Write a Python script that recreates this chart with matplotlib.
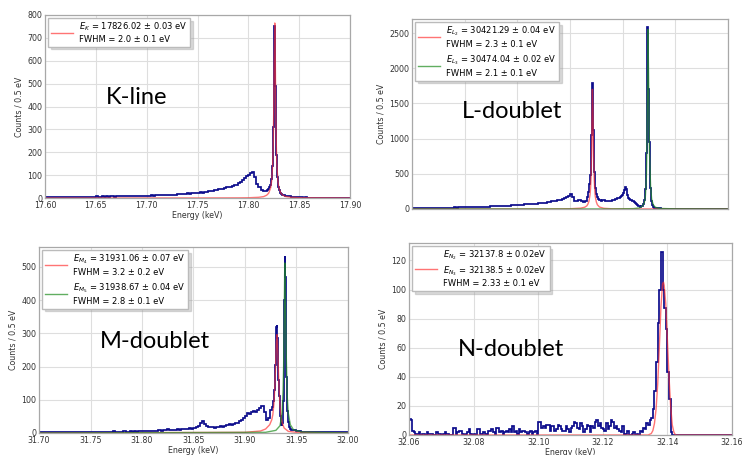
"""Four X-ray line spectra (K, L, M, N) with fitted peaks."""

import numpy as np
import matplotlib
matplotlib.use("Agg")
import matplotlib.pyplot as plt
from matplotlib.ticker import FormatStrFormatter, MultipleLocator

plt.rcParams["font.family"] = "DejaVu Sans"
plt.rcParams["font.size"] = 5.7

NAVY = "#0c0c8c"
RED = "#ff2a2a"
GREEN = "#1e8c1e"

# ---------------- K-line (keV, counts per 0.5 eV) ----------------
K_START = 17.600
K_LOW = [4, 3, 5, 4, 3, 4, 5, 4, 4, 5, 4, 5, 4, 5, 6, 4, 5, 5, 6, 5,
         6, 5, 6, 6, 5, 7, 6, 6, 7, 6, 7, 6, 7, 8, 6, 7, 8, 7, 8, 7,
         8, 7, 9, 8, 8, 9, 8, 9, 10, 9,
         9, 10, 11, 10, 11, 12, 11, 12, 13, 12, 13, 14, 13, 15, 14, 16, 18,
         17, 16, 18, 20, 19, 21, 22, 21, 24, 25, 24, 27, 28,
         30, 32, 31, 35, 37, 39, 41, 40, 44, 47, 46, 50, 53, 56, 58,
         64, 70, 78, 88, 96, 102, 108, 113, 90, 60, 48, 36, 30, 32]
K_PEAK = [35, 36, 38, 41, 44, 47, 52, 58, 69, 82, 104, 139, 200, 309, 498, 752,
          728, 490, 300, 190, 128, 90, 66, 50, 40, 33, 27, 22, 19, 16, 15, 13]
K_HIGH = [11, 9, 8, 9, 6, 5, 5, 4, 3, 3, 2, 3, 2, 2, 1, 2, 1, 1, 2, 1,
          1, 1, 1, 0, 1, 1, 0, 1, 1, 0, 1, 0, 1]
K_FIT_E = [17.60, 17.75, 17.79, 17.80, 17.81, 17.815, 17.818, 17.820, 17.822,
           17.823, 17.824, 17.8245, 17.825, 17.8255, 17.826, 17.8265, 17.827,
           17.8275, 17.828, 17.829, 17.830, 17.832, 17.834, 17.837, 17.842,
           17.852, 17.90]
K_FIT_Y = [0, 0.1, 0.6, 1.1, 3, 6, 12, 21, 45, 77, 153, 235, 382, 612, 765,
           612, 382, 235, 153, 77, 45, 21, 12, 6, 3, 1.1, 0.1]

# ---------------- L-doublet ----------------
L_START = 30.250
L_LOW = [12, 13, 11, 14, 13, 15, 14, 13, 16, 15, 17, 16, 18,
         17, 19, 18, 20, 19, 21, 20, 22, 21, 23, 22, 24, 25,
         24, 26, 27, 26, 28, 30, 29, 31, 33, 32, 35, 36, 38,
         40, 39, 42, 44, 43, 47, 49, 48, 52, 55, 54, 58, 61,
         60, 64, 66, 65, 70, 73, 72, 77, 80, 84, 88, 92, 98,
         104, 108, 112, 118, 124, 130, 140, 150, 165, 185, 210,
         170, 120, 110, 122, 115, 105, 112]
L_PEAK2 = [160, 175, 200, 235, 285, 360, 480, 700, 1050, 1550, 1795,
           1600, 1120, 740, 520, 380, 300, 245, 210, 185, 165, 150]
L_MID = [140, 125, 118, 122, 130, 126, 115, 112, 118, 110,
         115, 120, 118, 125, 130, 128, 135, 140, 150, 160,
         170, 185, 200, 230, 270, 310, 280, 200, 160, 135,
         125, 130, 120, 110, 100, 90, 75, 60, 45, 35, 38, 48]
L_PEAK3 = [60, 75, 95, 130, 180, 280, 450, 800, 1500, 2580, 2480,
           1700, 950, 520, 300, 190, 120, 80, 55, 40, 30, 22]
L_HIGH = [16, 10, 8, 6, 6, 5, 4, 5, 4, 3, 4, 3, 3, 4, 3, 2, 3, 3, 2, 3,
          2, 2, 3, 2, 2, 2, 1, 2, 2, 1, 2, 2, 1, 2, 1]
L2_FIT_E = [30.25, 30.38, 30.40, 30.41, 30.414, 30.416, 30.417, 30.418, 30.419,
            30.4195, 30.420, 30.4205, 30.421, 30.4213, 30.4217, 30.422, 30.4225,
            30.423, 30.4235, 30.424, 30.425, 30.426, 30.428, 30.432, 30.44,
            30.46, 30.55]
L2_FIT_Y = [0, 1, 4, 12, 25, 45, 70, 110, 200, 290, 450, 760, 1350, 1700, 1450,
            1100, 700, 420, 270, 180, 100, 60, 28, 10, 3, 1, 0]
L3_FIT_E = [30.25, 30.44, 30.46, 30.466, 30.469, 30.4705, 30.4715, 30.4725,
            30.473, 30.4735, 30.474, 30.4745, 30.475, 30.4755, 30.4765, 30.4775,
            30.479, 30.481, 30.485, 30.50, 30.55]
L3_FIT_Y = [0, 1, 5, 15, 45, 90, 170, 450, 900, 1650, 2550, 2000, 1300, 800,
            320, 140, 60, 25, 8, 2, 0]

# ---------------- M-doublet ----------------
M_START = 31.700
M_LOW = [3, 2, 3, 4, 2, 3, 3, 2, 4, 3, 2, 3, 3, 4, 2, 3, 3, 2, 3, 4, 3, 2, 3, 3, 4,
         3, 4, 3, 3, 2, 4, 3, 4, 3, 3, 4, 5, 3, 4, 4, 3, 5, 4, 4, 5, 4, 5, 4, 6, 5,
         5, 6, 5, 6, 7, 6, 7, 6, 8, 7, 8, 10, 13,
         9, 8, 9, 10, 11, 10, 12, 11, 13, 12, 14, 13, 16,
         18, 22, 30, 36, 28, 20, 18, 17, 19, 16, 17, 18,
         20, 19, 22, 24, 26, 25, 28, 31, 30, 35, 40, 44,
         52, 60, 58, 64, 66, 62, 70, 76, 80, 62, 40, 45, 68]
M_PEAK = [72, 78, 85, 95, 110, 130, 160, 205, 260, 318,
          325, 285, 220, 160, 110, 75, 50, 35, 25, 22,
          30, 50, 95, 200, 400, 532, 470, 300, 170, 100,
          65, 45, 32, 24, 18, 14, 12, 10, 9, 8]
M_HIGH = [10, 8, 6, 5, 4, 3, 3, 4, 3, 2, 3, 3, 2, 3, 2, 2, 3, 2, 3, 2,
          2, 3, 2, 2, 3, 2, 2]
M4_FIT_E = [31.70, 31.90, 31.915, 31.92, 31.924, 31.926, 31.927, 31.928, 31.929,
            31.930, 31.9305, 31.931, 31.9315, 31.932, 31.933, 31.934, 31.935,
            31.936, 31.938, 31.942, 31.95, 32.00]
M4_FIT_Y = [0, 2, 6, 12, 25, 40, 55, 85, 140, 230, 275, 296, 280, 230, 140, 80,
            50, 32, 15, 5, 2, 0]
M5_FIT_E = [31.70, 31.92, 31.93, 31.934, 31.936, 31.937, 31.9375, 31.938,
            31.9385, 31.9387, 31.939, 31.9395, 31.940, 31.941, 31.942, 31.944,
            31.947, 31.955, 32.00]
M5_FIT_Y = [0, 2, 8, 22, 60, 130, 200, 330, 480, 512, 470, 360, 240, 110, 60,
            25, 10, 3, 0]

# ---------------- N-doublet ----------------
N_START = 32.060
N_COUNTS = [11, 10, 3, 2, 1, 1, 2, 0, 1, 1, 0, 2, 1, 1, 1, 0, 0, 2, 1, 1,
            0, 1, 2, 1, 1, 0, 0, 5, 5, 1, 2, 3, 3, 1, 0, 1, 2, 4, 1, 0,
            1, 0, 4, 4, 1, 1, 2, 1, 0, 3, 3, 4, 2, 1, 5, 5, 2, 3, 1, 2,
            3, 2, 4, 2, 6, 2, 3, 1, 4, 2, 3, 3, 2, 1, 2, 3, 1, 2, 3, 1,
            9, 9, 5, 6, 5, 7, 7, 3, 6, 6, 3, 4, 7, 6, 4, 3, 3, 6, 4, 2,
            5, 6, 9, 8, 5, 4, 8, 6, 2, 4, 7, 6, 2, 6, 5, 9, 10, 6, 8, 5,
            4, 3, 8, 4, 6, 10, 9, 5, 6, 4, 3, 2, 6, 0, 1, 3, 0, 0, 1, 2,
            0, 1, 0, 3, 2, 5, 4, 8, 7, 10, 12, 18, 30, 50, 77, 100, 126, 100, 87, 73,
            43, 25, 2, 0, 0, 0, 0, 0, 0, 0, 0, 0, 0, 0, 0, 0, 0, 0, 0, 0,
            0, 0, 0, 0, 0, 0, 0, 0, 0, 0, 0, 0, 0, 0, 0, 0, 0, 0, 0, 0]
N_FIT_E = [32.06, 32.134, 32.135, 32.1355, 32.136, 32.1365, 32.137, 32.1375,
           32.138, 32.1385, 32.1388, 32.139, 32.1395, 32.140, 32.1405, 32.141,
           32.1415, 32.142, 32.1425, 32.16]
N_FIT_Y = [0, 0, 1, 3, 8, 18, 35, 60, 88, 104, 105, 103, 90, 65, 40, 20, 7, 2,
           0, 0]


def build(start, segments):
    """Join histogram segments of different bin widths into one set of edges."""
    edges = [start]
    counts = []
    for step, vals in segments:
        for v in vals:
            edges.append(edges[-1] + step)
            counts.append(v)
    return np.array(edges), np.array(counts, dtype=float)


W, H = 745, 455
fig = plt.figure(figsize=(W / 100, H / 100), dpi=100)


def make_ax(left, top, right, bottom):
    ax = fig.add_axes([left / W, 1 - bottom / H, (right - left) / W, (bottom - top) / H])
    ax.grid(True, color="#dedede", linewidth=0.8)
    ax.set_axisbelow(True)
    for s in ax.spines.values():
        s.set_color("#a8a8a8")
        s.set_linewidth(0.9)
    ax.tick_params(length=0, pad=2, colors="#333333", labelsize=5.7)
    ax.set_ylabel("Counts / 0.5 eV", color="#333333", labelpad=3)
    return ax


def legend(ax, fs=6.0):
    ax.legend(loc="upper left", fontsize=fs, handlelength=2.6, borderaxespad=0.35,
              labelspacing=0.6, edgecolor="#bbbbbb", fancybox=False, framealpha=1,
              borderpad=0.35, shadow={"color": "#999999", "alpha": 0.35})


# K-line
ax1 = make_ax(45, 15, 350, 198)
e, c = build(K_START, [(0.002, K_LOW), (0.0005, K_PEAK), (0.002, K_HIGH)])
ax1.stairs(c, e, color=NAVY, linewidth=1.25, baseline=None)
ax1.plot(K_FIT_E, K_FIT_Y, color=RED, alpha=0.65, linewidth=1.0,
         label="$E_K$ = 17826.02 ± 0.03 eV\nFWHM = 2.0 ± 0.1 eV")
ax1.set_xlim(17.60, 17.90)
ax1.set_ylim(0, 800)
ax1.xaxis.set_major_locator(MultipleLocator(0.05))
ax1.xaxis.set_major_formatter(FormatStrFormatter("%.2f"))
ax1.yaxis.set_major_locator(MultipleLocator(100))
ax1.set_xlabel("Energy (keV)", color="#333333", labelpad=1)
legend(ax1)

# L-doublet
ax2 = make_ax(412, 19, 728, 209)
e, c = build(L_START, [(0.002, L_LOW), (0.0005, L_PEAK2), (0.001, L_MID),
                       (0.0005, L_PEAK3), (0.002, L_HIGH)])
ax2.stairs(c, e, color=NAVY, linewidth=1.25, baseline=None)
ax2.plot(L2_FIT_E, L2_FIT_Y, color=RED, alpha=0.65, linewidth=1.0,
         label="$E_{L_2}$ = 30421.29 ± 0.04 eV\nFWHM = 2.3 ± 0.1 eV")
ax2.plot(L3_FIT_E, L3_FIT_Y, color=GREEN, alpha=0.7, linewidth=1.0,
         label="$E_{L_3}$ = 30474.04 ± 0.02 eV\nFWHM = 2.1 ± 0.1 eV")
ax2.set_xlim(30.25, 30.55)
ax2.set_ylim(0, 2700)
ax2.xaxis.set_major_locator(MultipleLocator(0.05))
ax2.yaxis.set_major_locator(MultipleLocator(500))
ax2.set_xticklabels([])
legend(ax2)

# M-doublet
ax3 = make_ax(39, 247, 348, 433)
e, c = build(M_START, [(0.002, M_LOW), (0.0005, M_PEAK), (0.002, M_HIGH)])
ax3.stairs(c, e, color=NAVY, linewidth=1.25, baseline=None)
ax3.plot(M4_FIT_E, M4_FIT_Y, color=RED, alpha=0.65, linewidth=1.0,
         label="$E_{M_4}$ = 31931.06 ± 0.07 eV\nFWHM = 3.2 ± 0.2 eV")
ax3.plot(M5_FIT_E, M5_FIT_Y, color=GREEN, alpha=0.7, linewidth=1.0,
         label="$E_{M_5}$ = 31938.67 ± 0.04 eV\nFWHM = 2.8 ± 0.1 eV")
ax3.set_xlim(31.70, 32.00)
ax3.set_ylim(0, 560)
ax3.xaxis.set_major_locator(MultipleLocator(0.05))
ax3.xaxis.set_major_formatter(FormatStrFormatter("%.2f"))
ax3.yaxis.set_major_locator(MultipleLocator(100))
ax3.set_xlabel("Energy (keV)", color="#333333", labelpad=1)
legend(ax3)

# N-doublet
ax4 = make_ax(409, 243, 732, 435)
e, c = build(N_START, [(0.0005, N_COUNTS)])
ax4.stairs(c, e, color=NAVY, linewidth=1.25, baseline=None)
ax4.plot(N_FIT_E, N_FIT_Y, color=RED, alpha=0.65, linewidth=1.0,
         label="$E_{N_2}$ = 32137.8 ± 0.02eV\n$E_{N_3}$ = 32138.5 ± 0.02eV\n"
               "FWHM = 2.33 ± 0.1 eV")
ax4.set_xlim(32.06, 32.16)
ax4.set_ylim(0, 132)
ax4.xaxis.set_major_locator(MultipleLocator(0.02))
ax4.xaxis.set_major_formatter(FormatStrFormatter("%.2f"))
ax4.yaxis.set_major_locator(MultipleLocator(20))
ax4.set_xlabel("Energy (keV)", color="#333333", labelpad=1)
legend(ax4)

# big panel captions
for label, x, y in [("K-line", 137, 97), ("L-doublet", 512, 111),
                    ("M-doublet", 155, 341), ("N-doublet", 511, 349)]:
    fig.text(x / W, 1 - y / H, label, family="Lato", fontsize=17,
             ha="center", va="center", color="black")

fig.savefig("out.png", dpi=100)
